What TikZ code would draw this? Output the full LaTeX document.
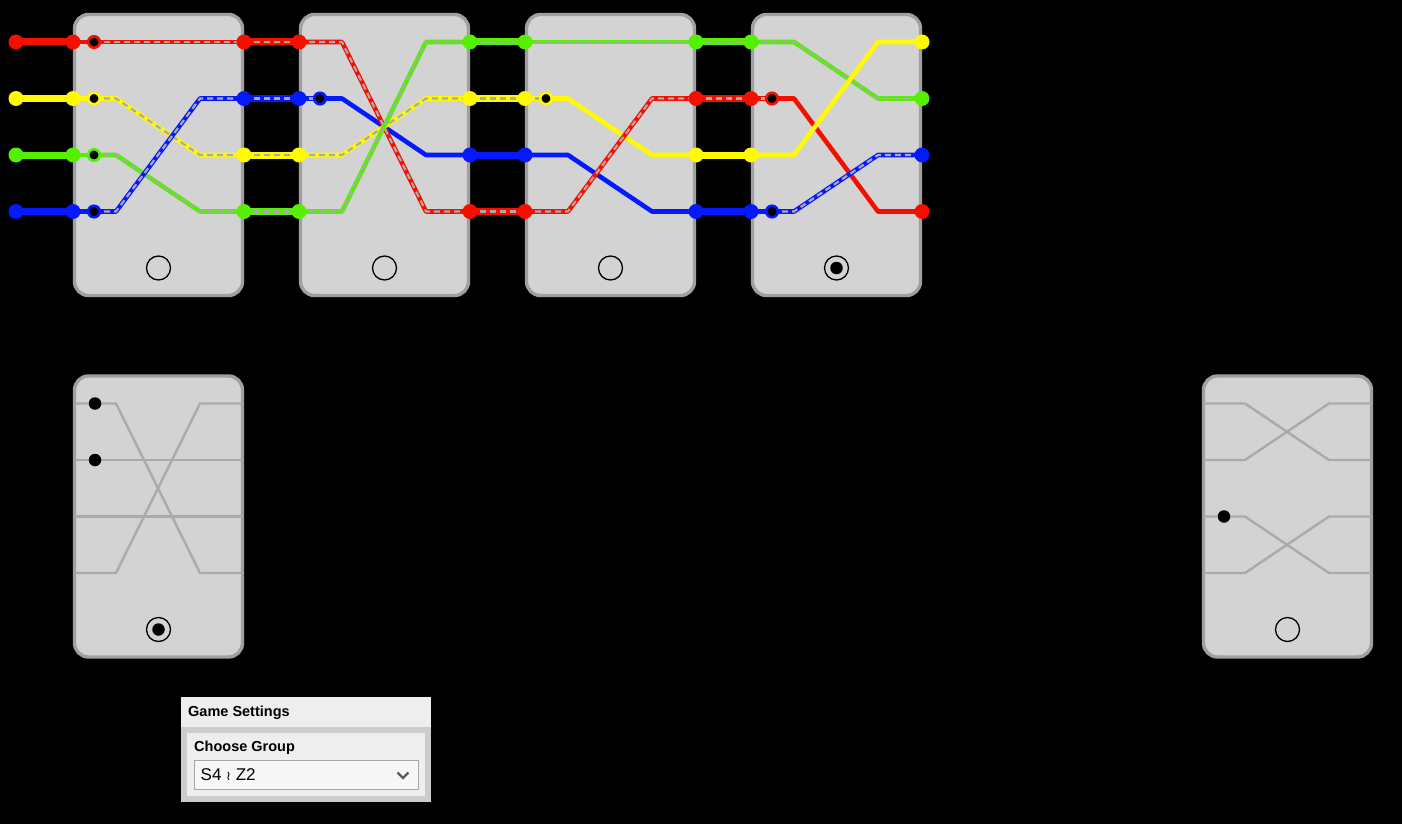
\documentclass[tikz,border=0pt]{standalone}
\usepackage{fontspec}
\setmainfont{Liberation Sans}
\newfontfamily\djv{DejaVu Sans}
\definecolor{wred}{RGB}{245,15,0}
\definecolor{wyel}{RGB}{255,250,0}
\definecolor{wgrn}{RGB}{85,240,0}
\definecolor{wblu}{RGB}{5,25,255}
\definecolor{cardfill}{RGB}{211,211,211}
\definecolor{cardedge}{RGB}{160,160,160}
\definecolor{dashgray}{RGB}{170,170,170}
\definecolor{thingray}{RGB}{170,170,170}
\definecolor{panelgray}{RGB}{204,204,204}
\definecolor{panellight}{RGB}{238,238,238}
\definecolor{selfill}{RGB}{247,247,247}
\definecolor{seledge}{RGB}{166,166,166}
\definecolor{chevgray}{RGB}{90,90,90}
\begin{document}
\begin{tikzpicture}[x=1pt,y=-1pt,
 card/.style={draw=cardedge,fill=cardfill,line width=3.4pt,rounded corners=14pt,minimum width=168pt,minimum height=281pt,inner sep=0pt},
 radio/.style={circle,draw=black,line width=1.3pt,minimum size=24pt,inner sep=0pt},
 rdot/.style={circle,fill=black,minimum size=12.5pt,inner sep=0pt},
 port/.style={circle,fill=#1,minimum size=15pt,inner sep=0pt},
 ring/.style={circle,fill=black,draw=#1,line width=2.6pt,minimum size=11.5pt,inner sep=0pt},
 bdot/.style={circle,fill=black,minimum size=12.5pt,inner sep=0pt},
 wire/.style={draw=#1,line width=4.6pt,line join=round},
 link/.style={draw=#1,line width=7pt},
 dsh/.style={postaction={draw=dashgray,line width=2.2pt,dash pattern=on 6pt off 4pt}},
 gline/.style={draw=thingray,line width=2.4pt},
 box/.style={anchor=north west,inner sep=0pt,outer sep=0pt},
 lbl/.style={anchor=west,inner sep=0pt,font=\bfseries\fontsize{14.5}{16}\selectfont},
]
\fill[black] (0,0) rectangle (1402,824);

% ---------- top cards ----------
\foreach \i in {1,2,3,4}{
  \node[card] (card\i) at ({73+226*(\i-1)+85.5},155) {};
  \node[radio] (rad\i) at ({73+226*(\i-1)+85.5},268) {};
}
\node[rdot] (rad4dot) at (rad4) {};

\foreach \i in {1,2,3,4}{
 \foreach \r/\y in {1/42,2/98.5,3/155,4/211.5}{
   \coordinate (c\i L\r) at ({73+226*(\i-1)},\y);
   \coordinate (c\i d\r) at ({73+226*(\i-1)+21},\y);
   \coordinate (c\i a\r) at ({73+226*(\i-1)+43},\y);
   \coordinate (c\i b\r) at ({73+226*(\i-1)+127},\y);
   \coordinate (c\i R\r) at ({73+226*(\i-1)+171},\y);
 }}
\foreach \r/\y in {1/42,2/98.5,3/155,4/211.5} \coordinate (in\r) at (16,\y);

% inputs
\draw[link=wred] (in1) -- (c1L1);
\draw[link=wyel] (in2) -- (c1L2);
\draw[link=wgrn] (in3) -- (c1L3);
\draw[link=wblu] (in4) -- (c1L4);

% card 1
\draw[wire=wred] (c1L1) -- (c1d1);
\draw[wire=wred,dsh] (c1d1) -- (c1R1);
\draw[wire=wyel] (c1L2) -- (c1d2);
\draw[wire=wyel,dsh] (c1d2) -- (c1a2) -- (c1b3) -- (c1R3);
\draw[wire=wgrn] (c1L3) -- (c1d3);
\draw[wire=wgrn,dsh] (c1d3) -- (c1a3) -- (c1b4) -- (c1R4);
\draw[wire=wblu] (c1L4) -- (c1d4);
\draw[wire=wblu,dsh] (c1d4) -- (c1a4) -- (c1b2) -- (c1R2);

% gap 1
\draw[link=wred,dsh] (c1R1) -- (c2L1);
\draw[link=wblu,dsh] (c1R2) -- (c2L2);
\draw[link=wyel,dsh] (c1R3) -- (c2L3);
\draw[link=wgrn,dsh] (c1R4) -- (c2L4);

% card 2
\draw[wire=wblu,dsh] (c2L2) -- (c2d2);
\draw[wire=wblu] (c2d2) -- (c2a2) -- (c2b3) -- (c2R3);
\draw[wire=wred,dsh] (c2L1) -- (c2a1) -- (c2b4) -- (c2R4);
\draw[wire=wyel,dsh] (c2L3) -- (c2a3) -- (c2b2) -- (c2R2);
\draw[wire=wgrn,dsh] (c2L4) -- (c2a4) -- (c2b1) -- (c2R1);

% gap 2
\draw[link=wgrn,dsh] (c2R1) -- (c3L1);
\draw[link=wyel,dsh] (c2R2) -- (c3L2);
\draw[link=wblu] (c2R3) -- (c3L3);
\draw[link=wred,dsh] (c2R4) -- (c3L4);

% card 3
\draw[wire=wgrn,dsh] (c3L1) -- (c3R1);
\draw[wire=wyel,dsh] (c3L2) -- (c3d2);
\draw[wire=wyel] (c3d2) -- (c3a2) -- (c3b3) -- (c3R3);
\draw[wire=wblu] (c3L3) -- (c3a3) -- (c3b4) -- (c3R4);
\draw[wire=wred,dsh] (c3L4) -- (c3a4) -- (c3b2) -- (c3R2);

% gap 3
\draw[link=wgrn,dsh] (c3R1) -- (c4L1);
\draw[link=wred,dsh] (c3R2) -- (c4L2);
\draw[link=wyel] (c3R3) -- (c4L3);
\draw[link=wblu] (c3R4) -- (c4L4);

% card 4
\draw[wire=wgrn,dsh] (c4L1) -- (c4a1) -- (c4b2) -- (c4R2);
\draw[wire=wred,dsh] (c4L2) -- (c4d2);
\draw[wire=wred] (c4d2) -- (c4a2) -- (c4b4) -- (c4R4);
\draw[wire=wblu] (c4L4) -- (c4d4);
\draw[wire=wblu,dsh] (c4d4) -- (c4a4) -- (c4b3) -- (c4R3);
\draw[wire=wyel] (c4L3) -- (c4a3) -- (c4b1) -- (c4R1);

% ports
\foreach \r/\c in {1/wred,2/wyel,3/wgrn,4/wblu}{
  \node[port=\c] (pin\r) at (in\r) {};
  \node[port=\c] (p1L\r) at (c1L\r) {};
  \node[ring=\c] (q1\r) at (c1d\r) {};
}
\foreach \r/\c in {1/wred,2/wblu,3/wyel,4/wgrn}{
  \node[port=\c] (p1R\r) at (c1R\r) {};
  \node[port=\c] (p2L\r) at (c2L\r) {};
}
\foreach \r/\c in {1/wgrn,2/wyel,3/wblu,4/wred}{
  \node[port=\c] (p2R\r) at (c2R\r) {};
  \node[port=\c] (p3L\r) at (c3L\r) {};
}
\foreach \r/\c in {1/wgrn,2/wred,3/wyel,4/wblu}{
  \node[port=\c] (p3R\r) at (c3R\r) {};
  \node[port=\c] (p4L\r) at (c4L\r) {};
}
\foreach \r/\c in {1/wyel,2/wgrn,3/wblu,4/wred}{
  \node[port=\c] (p4R\r) at (c4R\r) {};
}
\node[ring=wblu] (q22) at (c2d2) {};
\node[ring=wyel] (q32) at (c3d2) {};
\node[ring=wred] (q42) at (c4d2) {};
\node[ring=wblu] (q44) at (c4d4) {};

% ---------- bottom cards ----------
\node[card] (cardB1) at (158.5,516.5) {};
\node[card] (cardB2) at (1287.5,516.5) {};
\foreach \k/\L in {1/73,2/1202}{
 \foreach \r/\y in {1/403.5,2/460,3/516.5,4/573}{
   \coordinate (b\k L\r) at ({\L+1.5},\y);
   \coordinate (b\k d\r) at ({\L+22},\y);
   \coordinate (b\k a\r) at ({\L+43},\y);
   \coordinate (b\k b\r) at ({\L+127},\y);
   \coordinate (b\k R\r) at ({\L+169.5},\y);
 }}
\draw[gline] (b1L1) -- (b1a1) -- (b1b4) -- (b1R4);
\draw[gline] (b1L4) -- (b1a4) -- (b1b1) -- (b1R1);
\draw[gline] (b1L2) -- (b1R2);
\draw[gline] (b1L3) -- (b1R3);
\draw[gline] (b2L1) -- (b2a1) -- (b2b2) -- (b2R2);
\draw[gline] (b2L2) -- (b2a2) -- (b2b1) -- (b2R1);
\draw[gline] (b2L3) -- (b2a3) -- (b2b4) -- (b2R4);
\draw[gline] (b2L4) -- (b2a4) -- (b2b3) -- (b2R3);
\node[bdot] (bd11) at (b1d1) {};
\node[bdot] (bd12) at (b1d2) {};
\node[bdot] (bd23) at (b2d3) {};
\node[radio] (radB1) at (158.5,629.5) {};
\node[rdot] (radB1dot) at (radB1) {};
\node[radio] (radB2) at (1287.5,629.5) {};

% ---------- settings panel ----------
\node[box,fill=panelgray,minimum width=250pt,minimum height=105pt] (panel) at (181,697) {};
\node[box,fill=panellight,minimum width=250pt,minimum height=30pt] (phead) at (181,697) {};
\node[box,fill=panellight,minimum width=238pt,minimum height=63pt] (pbody) at (187,733) {};
\node[box,fill=selfill,draw=seledge,line width=1pt,minimum width=224pt,minimum height=29pt] (psel) at (194.5,760.5) {};
\node[lbl] (t1) at (188,712.5) {Game Settings};
\node[lbl] (t2) at (194,748) {Choose Group};
\node[anchor=west,inner sep=0pt,font=\fontsize{17}{19}\selectfont] (t3) at (200.5,775) {S4 {\djv\fontsize{13}{13}\selectfont ≀} Z2};
\coordinate (chA) at (397.5,772.5);
\coordinate (chB) at (403,778);
\coordinate (chC) at (408.5,772.5);
\draw[draw=chevgray,line width=2.2pt] (chA) -- (chB) -- (chC);
\end{tikzpicture}
\end{document}
